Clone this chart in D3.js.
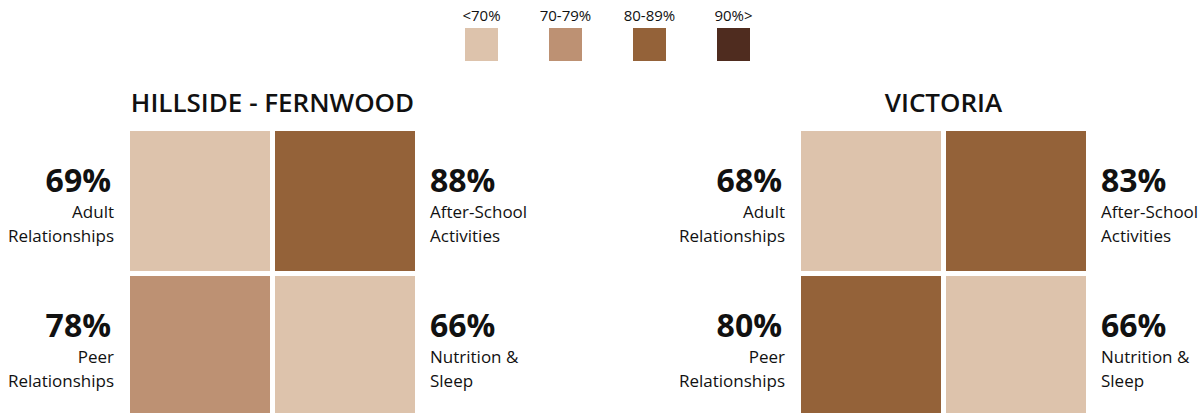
<!DOCTYPE html>
<html>
<head>
<meta charset="utf-8">
<script src="https://cdn.jsdelivr.net/npm/d3@7"></script>
<style>
  body { margin: 0; background: #fff; font-family: "Open Sans", sans-serif; }
  svg text { fill: #111; }
</style>
</head>
<body>
<div id="chart"></div>
<script>
// data
var regions = ["HILLSIDE - FERNWOOD", "VICTORIA"];
var categories = ["Adult|Relationships", "After-School|Activities", "Peer|Relationships", "Nutrition &|Sleep"];
var hillsideValues = [69, 88, 78, 66];
var victoriaValues = [68, 83, 80, 66];
var legendLabels = ["<70%", "70-79%", "80-89%", "90%>"];
var legendColors = ["#ddc3ac", "#bd9173", "#946239", "#4f2c1f"];
var thresholds = [70, 80, 90];

var width = 1202, height = 413;
var svg = d3.select("#chart").append("svg").attr("width", width).attr("height", height);

var color = d3.scaleThreshold().domain(thresholds).range(legendColors);

// legend
var lx = d3.scaleBand().domain(legendLabels).range([465, 750]).paddingInner(51/84);
var legend = svg.append("g").attr("class", "legend");
legend.selectAll("rect").data(legendLabels).enter().append("rect")
  .attr("x", function(d){ return lx(d); })
  .attr("y", 28)
  .attr("width", lx.bandwidth())
  .attr("height", 33)
  .attr("fill", function(d, i){ return legendColors[i]; });
legend.selectAll("text").data(legendLabels).enter().append("text")
  .attr("x", function(d){ return lx(d) + lx.bandwidth()/2; })
  .attr("y", 21)
  .attr("text-anchor", "middle")
  .style("font-size", "15px")
  .text(function(d){ return d; });

var panelX = d3.scaleBand().domain(regions).range([130, 1086]).paddingInner((801-415)/(801-130));
var col = d3.scaleBand().domain([0, 1]).range([0, panelX.bandwidth()]).paddingInner(5/145);
var row = d3.scaleBand().domain([0, 1]).range([131, 416]).paddingInner(5/145);

var panelData = [hillsideValues, victoriaValues];

regions.forEach(function(region, r) {
  var g = svg.append("g").attr("transform", "translate(" + panelX(region) + ",0)");
  var vals = panelData[r];

  g.append("text")
    .attr("x", panelX.bandwidth()/2)
    .attr("y", 112)
    .attr("text-anchor", "middle")
    .style("font-size", "26px")
    .style("font-weight", 600)
    .text(region);

  var cells = categories.map(function(c, i){
    return { label: c.split("|"), value: vals[i], col: i % 2, row: Math.floor(i / 2) };
  });

  g.selectAll("rect.cell").data(cells).enter().append("rect")
    .attr("class", "cell")
    .attr("x", function(d){ return col(d.col); })
    .attr("y", function(d){ return row(d.row); })
    .attr("width", col.bandwidth())
    .attr("height", row.bandwidth())
    .attr("fill", function(d){ return color(d.value); });

  var lab = g.selectAll("g.lab").data(cells).enter().append("g")
    .attr("class", "lab")
    .attr("transform", function(d){
      var x = d.col === 0 ? col(0) - 16 : col(1) + col.bandwidth() + 15;
      return "translate(" + x + "," + row(d.row) + ")";
    });

  lab.append("text")
    .attr("x", function(d){ return d.col === 0 ? -3 : 0; })
    .attr("y", 61)
    .attr("text-anchor", function(d){ return d.col === 0 ? "end" : "start"; })
    .style("font-size", "32px")
    .style("font-weight", 700)
    .text(function(d){ return d.value + "%"; });

  lab.each(function(d){
    var sel = d3.select(this);
    d.label.forEach(function(line, k){
      sel.append("text")
        .attr("y", 87 + k * 24)
        .attr("text-anchor", d.col === 0 ? "end" : "start")
        .style("font-size", "17px")
        .text(line);
    });
  });
});
</script>
</body>
</html>
